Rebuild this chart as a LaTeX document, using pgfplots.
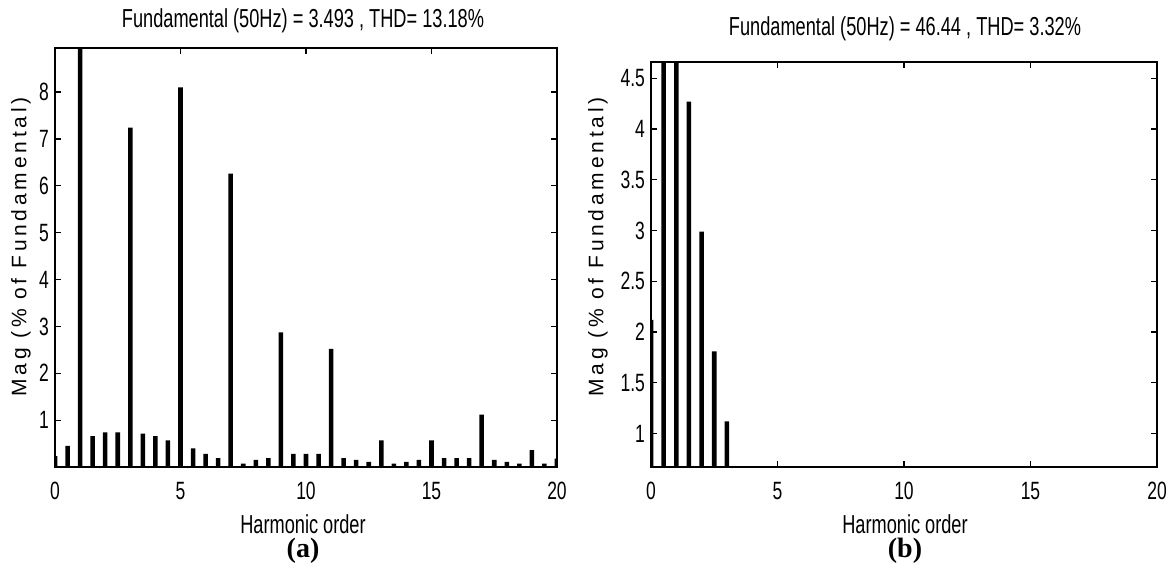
\documentclass[border=0pt]{standalone}
\usepackage{pgfplots}
\pgfplotsset{compat=1.18}
\usepackage{fontspec}
\setmainfont{Liberation Sans}
\newfontfamily\narrowfont[FakeStretch=0.7]{Liberation Sans}
\newfontfamily\spacedfont[LetterSpace=18]{Liberation Sans}
\newfontfamily\capfont{Liberation Serif}
\pgfplotsset{
  harm/.style={
    scale only axis,
    xmin=0, xmax=20,
    xtick={0,5,...,20},
    tick align=inside,
    major tick length=3pt,
    axis line style={line width=0.9pt},
    every tick/.style={black, line width=0.6pt},
    ticklabel style={font=\narrowfont\fontsize{12.5}{14}\selectfont},
    xticklabel style={yshift=-4pt},
    yticklabel style={xshift=0.5pt},
    /pgf/number format/assume math mode=true,
    /pgf/number format/fixed,
  }
}
\begin{document}
\begin{tikzpicture}
\path[use as bounding box] (0pt,0pt) rectangle (587.5pt,284.5pt);
% Left panel (a)
\begin{axis}[harm,
  at={(27.5pt,51pt)}, anchor=south west,
  width=251pt, height=209.5pt,
  ymin=0, ymax=8.94,
  ytick={1,...,8},
]
\addplot[ybar, fill=black, draw=none, bar width=0.18] coordinates {
(0,0.23) (0.5,0.45) (1,100) (1.5,0.66) (2,0.74) (2.5,0.74) (3,7.24) (3.5,0.71)
(4,0.66) (4.5,0.57) (5,8.10) (5.5,0.40) (6,0.28) (6.5,0.19) (7,6.26) (7.5,0.07)
(8,0.15) (8.5,0.19) (9,2.87) (9.5,0.28) (10,0.28) (10.5,0.28) (11,2.52) (11.5,0.19)
(12,0.15) (12.5,0.11) (13,0.57) (13.5,0.07) (14,0.11) (14.5,0.15) (15,0.57) (15.5,0.19)
(16,0.19) (16.5,0.19) (17,1.12) (17.5,0.15) (18,0.11) (18.5,0.07) (19,0.36) (19.5,0.07)
(20,0.18)
};
\end{axis}
% Right panel (b)
\begin{axis}[harm,
  at={(325.5pt,51pt)}, anchor=south west,
  width=253pt, height=202.5pt,
  ymin=0.67, ymax=4.66,
  ytick={1,1.5,...,4.5},
]
\addplot[ybar, fill=black, draw=none, bar width=0.18] coordinates {
(0,2.12) (0.5,5.2) (1,100) (1.5,4.27) (2,2.99) (2.5,1.81) (3,1.12)
};
\end{axis}
% Titles
\node[font=\narrowfont\fontsize{13}{15}\selectfont] at (151.5pt,274pt) {Fundamental (50Hz) = 3.493 , THD= 13.18\%};
\node[font=\narrowfont\fontsize{13}{15}\selectfont] at (452.5pt,270pt) {Fundamental (50Hz) = 46.44 , THD= 3.32\%};
% x labels
\node[font=\narrowfont\fontsize{13}{15}\selectfont] at (151.5pt,22.5pt) {Harmonic order};
\node[font=\narrowfont\fontsize{13}{15}\selectfont] at (452.5pt,22.5pt) {Harmonic order};
% y labels
\node[font=\spacedfont\fontsize{10.5}{12}\selectfont, rotate=90] at (10.5pt,161pt) {Mag (\% of Fundamental)};
\node[font=\spacedfont\fontsize{10.5}{12}\selectfont, rotate=90] at (299pt,161pt) {Mag (\% of Fundamental)};
% captions
\node[font=\capfont\bfseries\fontsize{14}{16}\selectfont] at (151.5pt,9pt) {(a)};
\node[font=\capfont\bfseries\fontsize{14}{16}\selectfont] at (452.5pt,9pt) {(b)};
\end{tikzpicture}
\end{document}
